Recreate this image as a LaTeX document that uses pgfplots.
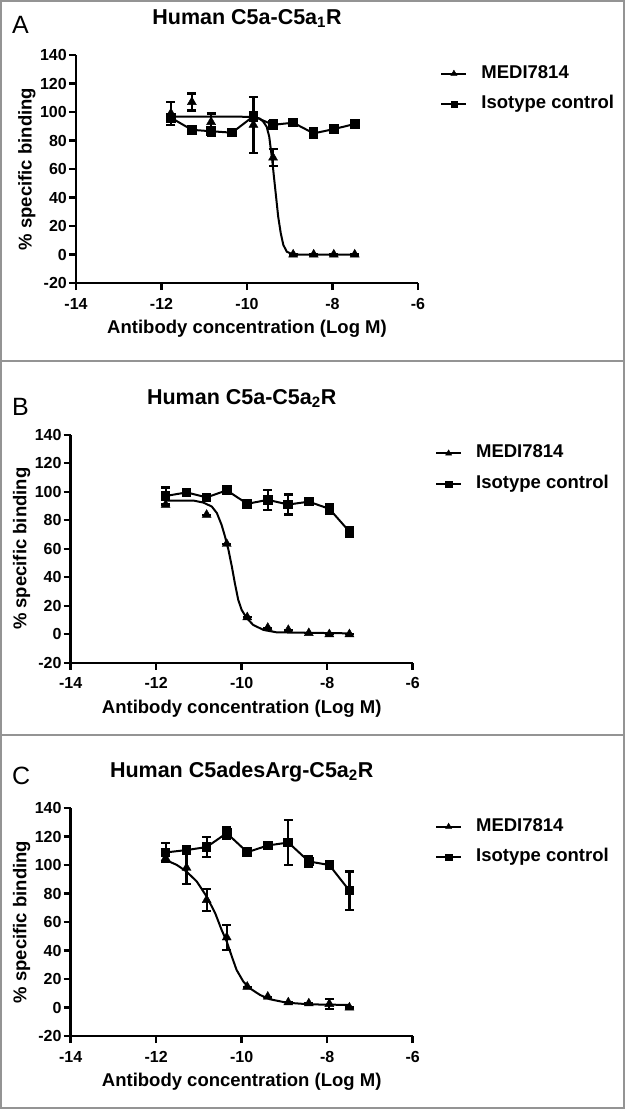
\documentclass[border=0pt]{standalone}
\usepackage{fontspec}
\setmainfont{Liberation Sans}
\usepackage{pgfplots}
\usepackage{pgfplotstable}
\pgfplotsset{compat=1.18}

% ---------------- Panel A ----------------
\pgfplotstableread{
x y e
-11.78 99 8
-11.29 107 6
-10.84 93 6
-9.85 91 19.5
-9.39 68 6
-8.92 0 0
-8.44 0 0
-7.97 0 0
-7.48 0 0
}\triA
\pgfplotstableread{
x y e
-11.78 96 2
-11.29 87.5 0
-10.84 86.5 3
-10.35 85.5 0
-9.85 97 3
-9.39 91 3
-8.92 92.5 0
-8.44 85 3.5
-7.97 88 0
-7.48 91.6 0
}\sqA
\pgfplotstableread{
x y
-11.78 96.7
-10.20 96.7
-9.89 96.6
-9.80 96.2
-9.70 95.4
-9.62 93.2
-9.54 89.7
-9.48 82.7
-9.45 75.6
-9.41 66.3
-9.37 54.6
-9.32 40.6
-9.27 26.5
-9.21 14.9
-9.15 6.7
-9.07 2.0
-8.95 0.3
-8.80 0
-7.48 0
}\fitA
% ---------------- Panel B ----------------
\pgfplotstableread{
x y e
-11.78 90.8 0
-10.82 83.8 0
-10.35 63.4 0
-9.87 11.9 0
-9.39 4.5 0
-8.91 3 0
-8.43 0.8 0
-7.95 0 0
-7.48 0 0
}\triB
\pgfplotstableread{
x y e
-11.78 97 6
-11.29 99.5 2
-10.82 96 1.5
-10.35 101 1.5
-9.87 91.5 2
-9.39 94.3 7
-8.91 91 7
-8.43 93 1.5
-7.95 88 3.5
-7.48 72 3.5
}\sqB
\pgfplotstableread{
x y
-11.79 93.8
-11.13 93.8
-10.90 92.4
-10.70 89.6
-10.58 85.0
-10.47 76.7
-10.39 68.5
-10.31 59.2
-10.23 47.4
-10.16 35.8
-10.08 24.0
-10.00 17.0
-9.88 11.2
-9.73 6.5
-9.49 3.0
-9.18 1.3
-7.47 0.6
}\fitB
% ---------------- Panel C ----------------
\pgfplotstableread{
x y e
-11.78 104.8 2
-11.29 98 11.5
-10.82 75.4 7.6
-10.35 49.2 8.8
-9.87 14.6 0
-9.39 7.6 0
-8.91 3.6 0
-8.43 2.9 0
-7.95 2.5 3.7
-7.48 0 0
}\triC
\pgfplotstableread{
x y e
-11.78 108.8 6.5
-11.29 110.5 3
-10.82 112.6 7
-10.35 122.4 4
-9.87 109 1
-9.39 113.7 1
-8.91 115.8 15.8
-8.43 102.5 4
-7.95 100 1
-7.48 82 13.5
}\sqC
\pgfplotstableread{
x y
-11.79 103.7
-11.52 100.1
-11.29 95.4
-11.05 88.4
-10.82 77.9
-10.62 66.2
-10.47 54.5
-10.35 46.3
-10.23 35.7
-10.12 26.4
-9.96 18.1
-9.81 13.5
-9.57 8.8
-9.34 5.8
-8.95 3.4
-8.40 2.2
-7.47 1.8
}\fitC

\pgfplotsset{
  panel/.style={
    scale only axis, width=342pt, height=228pt,
    xmin=-14, xmax=-6, ymin=-20, ymax=140,
    axis x line*=bottom, axis y line*=left,
    xtick={-14,-12,-10,-8,-6},
    xticklabels={-14,-12,-10,-8,-6},
    ytick={-20,0,20,40,60,80,100,120,140},
    yticklabels={-20,0,20,40,60,80,100,120,140},
    ticklabel style={font=\fontsize{16}{16}\selectfont\bfseries},
    xticklabel style={anchor=base, yshift=-19pt},
    yticklabel style={anchor=east, inner sep=0pt, xshift=-2pt},
    xlabel={Antibody concentration (Log M)},
    ylabel={\% specific binding},
    label style={font=\fontsize{18.5}{18.5}\selectfont\bfseries},
    xlabel style={at={(axis description cs:0.5,-0.2215)}, anchor=base},
    ylabel style={at={(axis description cs:-0.1433,0.5)}, anchor=center},
    title style={font=\fontsize{21.5}{21.5}\selectfont\bfseries, at={(axis description cs:0.5,1)}, anchor=base, yshift=24.5pt},
    clip=false,
    legend style={draw=none, fill=none, at={(axis description cs:1.065,0.851)}, anchor=west,
      inner sep=0pt, row sep=12.5pt, column sep=14pt,
      font=\fontsize{18.5}{18.5}\selectfont\bfseries,
      nodes={inner sep=0pt, text height=13.5pt, text depth=4.5pt}},
    legend cell align=left,
    legend image code/.code={\draw[##1, mark repeat=2, mark phase=2] plot coordinates {(0pt,0pt) (12.5pt,0pt) (25pt,0pt)};},
  },
  trimarks/.style={black, only marks, mark=triangle*, mark size=5.2pt, mark options={solid},
    error bars/.cd, y dir=both, y explicit, error mark=-,
    error bar style={line width=2.2pt, black}, error mark options={rotate=90, mark size=4.5pt, line width=2.2pt, black},
    /pgfplots/.cd},
  sqmarks/.style={black, line width=2pt, mark=square*, mark size=3.8pt, mark options={solid},
    error bars/.cd, y dir=both, y explicit, error mark=-,
    error bar style={line width=2.2pt, black}, error mark options={rotate=90, mark size=4.5pt, line width=2.2pt, black},
    /pgfplots/.cd},
  fitline/.style={black, line width=2pt, no marks},
}

\begin{document}
\begin{tikzpicture}
\useasboundingbox (0pt,0pt) rectangle (626pt,-1109pt);

% Panel A
\begin{axis}[panel, at={(76pt,-283pt)}, anchor=south west,
  axis line style={line width=2.4pt, black},
  tick align=outside, major tick length=7pt, tick style={black, line width=2.4pt},
  title={Human C5a-C5a\textsubscript{1}R}]
  \addlegendimage{black, line width=2pt, mark=triangle*, mark size=3.6pt, mark options={solid, line width=0.4pt}}
  \addlegendentry{MEDI7814}
  \addlegendimage{black, line width=2pt, mark=square*, mark size=3.2pt, mark options={solid, line width=0.4pt}}
  \addlegendentry{Isotype control}
  \addplot[forget plot, fitline] table[x=x,y=y] {\fitA};
  \addplot[forget plot, sqmarks] table[x=x,y=y,y error=e] {\sqA};
  \addplot[forget plot, trimarks] table[x=x,y=y,y error=e] {\triA};
\end{axis}

% Panel B
\begin{axis}[panel, at={(70.7pt,-662.7pt)}, anchor=south west,
  axis line style={line width=2.4pt, black},
  tick align=outside, major tick length=7pt, tick style={black, line width=2.4pt},
  title={Human C5a-C5a\textsubscript{2}R}]
  \addlegendimage{black, line width=2pt, mark=triangle*, mark size=3.6pt, mark options={solid, line width=0.4pt}}
  \addlegendentry{MEDI7814}
  \addlegendimage{black, line width=2pt, mark=square*, mark size=3.2pt, mark options={solid, line width=0.4pt}}
  \addlegendentry{Isotype control}
  \addplot[forget plot, fitline] table[x=x,y=y] {\fitB};
  \addplot[forget plot, sqmarks] table[x=x,y=y,y error=e] {\sqB};
  \addplot[forget plot, trimarks] table[x=x,y=y,y error=e] {\triB};
\end{axis}

% Panel C
\begin{axis}[panel, at={(70.7pt,-1036pt)}, anchor=south west,
  axis line style={line width=2.4pt, black},
  tick align=outside, major tick length=7pt, tick style={black, line width=2.4pt},
  title={Human C5adesArg-C5a\textsubscript{2}R}]
  \addlegendimage{black, line width=2pt, mark=triangle*, mark size=3.6pt, mark options={solid, line width=0.4pt}}
  \addlegendentry{MEDI7814}
  \addlegendimage{black, line width=2pt, mark=square*, mark size=3.2pt, mark options={solid, line width=0.4pt}}
  \addlegendentry{Isotype control}
  \addplot[forget plot, fitline] table[x=x,y=y] {\fitC};
  \addplot[forget plot, sqmarks] table[x=x,y=y,y error=e] {\sqC};
  \addplot[forget plot, trimarks] table[x=x,y=y,y error=e] {\triC};
\end{axis}

% panel letters
\node[anchor=base west, inner sep=0pt, font=\fontsize{25}{25}\selectfont] at (12pt,-33pt) {A};
\node[anchor=base west, inner sep=0pt, font=\fontsize{25}{25}\selectfont] at (12pt,-415pt) {B};
\node[anchor=base west, inner sep=0pt, font=\fontsize{25}{25}\selectfont] at (12pt,-784pt) {C};

% frame
\draw[black!42, line width=1.5pt] (1pt,-0.8pt) rectangle (624pt,-1108.2pt);
\draw[black!42, line width=1.5pt] (1pt,-361pt) -- (624pt,-361pt);
\draw[black!42, line width=1.5pt] (1pt,-735pt) -- (624pt,-735pt);
\end{tikzpicture}
\end{document}
